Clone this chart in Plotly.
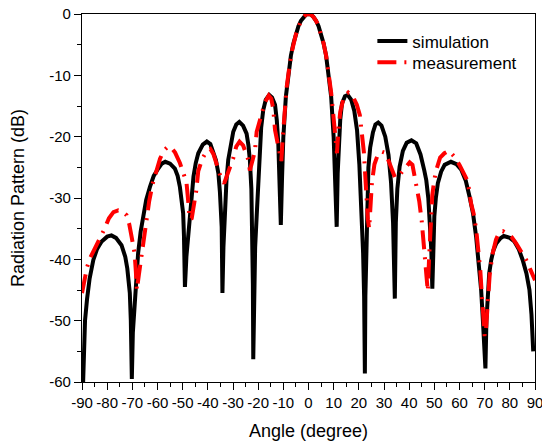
import plotly.graph_objects as go

# ---- data ----
sim_angle = [-90, -89.2, -88.8, -88, -87, -85.5, -84, -82.2, -80, -78.3, -76.5, -74.3, -72.8, -72, -71.4, -71, -70.6, -70.2,
             -69.8, -69, -68.4, -67.7, -66.7, -65.7, -64.5, -63, -61.5, -59.7, -58.3, -56.9, -55, -53.1, -52, -51.1, -50.4, -49.8, -49.5, -49.1,
             -48.5, -47.7, -46.8, -45.7, -44.8, -43.8, -42, -40.4, -39, -37.8, -36.8, -35.8, -35.2, -34.5, -34.2,
             -33.8, -33.2, -32.6, -31.9, -30.8, -29.9, -28.7, -27.5, -26, -24.6, -23.9, -23.3, -22.7, -22.3, -22.1, -21.95,
             -21.7, -21.2, -20.6, -20, -19.3, -18.8, -18, -17, -15.6, -14.5, -13.3, -12.6, -12, -11.5, -11.0,
             -10.5, -10, -9, -8, -7, -6, -5, -4, -3, -2, -1, 0, 1, 2, 3, 4, 5, 6, 7, 8, 9, 10, 10.6, 11.2,
             11.6, 12.1, 12.6, 13.3, 14.5, 15.6, 17, 18.2, 19.3, 20.2, 21, 21.7, 22.1, 22.4,
             22.6, 23, 23.4, 23.8, 24.5, 25.6, 26.6, 27.7, 29, 30.5, 31.8, 32.8, 33.6, 34.0, 34.3,
             34.7, 35.3, 36.2, 37.5, 39, 40.9, 42.8, 44.5, 46, 46.8, 47.6, 48.3, 48.8, 49.2,
             49.5, 50, 50.6, 51.4, 52.7, 54.1, 56.6, 58.8, 60.7, 62.5, 64, 65.4, 66.6, 67.7, 68.6, 69.3, 69.9, 70.3,
             70.7, 71.2, 71.8, 72.6, 73.5, 74.6, 76.2, 77.6, 80, 81.8, 83.5, 85.1, 86.6, 87.8, 88.6, 89.3]
sim_db = [-66, -54, -50, -46.5, -43.2, -40.1, -38.3, -37.1, -36.3, -36.1, -36.5, -37.7, -39.6, -41.5, -43.5, -45.5, -50, -59.5,
          -52, -47.7, -42.5, -39, -35.5, -33, -30.3, -28.2, -26.4, -25.2, -24.4, -24.1, -24.4, -25.2, -26.4, -28.2, -30, -32.5, -36, -44.5,
          -39.5, -35.8, -30, -26.5, -24.3, -22.7, -21.3, -20.8, -21.2, -22.4, -23.8, -26, -29, -34.7, -45.5,
          -38, -32, -27.2, -23.8, -21, -19.2, -18, -17.6, -18.2, -19.5, -21.3, -23.8, -28.5, -35, -44, -56.3,
          -45, -38, -33, -27, -21.5, -18.5, -15.7, -14, -13.2, -13.6, -14.8, -17.3, -21.1, -26, -34.4,
          -26.5, -20.1, -13.5, -9.6, -6.8, -4.8, -3.2, -2.0, -1.1, -0.5, -0.1, 0, -0.1, -0.5, -1.1, -2.0, -3.2, -4.8, -6.8, -9.6, -13.5, -20.1, -27, -34.7,
          -26, -21, -17.3, -14.6, -13.4, -13.2, -14, -15.8, -19, -24.5, -31.5, -39, -46, -58.6,
          -46, -36, -29, -25, -21.8, -19.3, -18, -17.7, -18.2, -20, -23, -27.5, -34, -39, -46.4,
          -34, -28.5, -24.9, -22.3, -21, -20.6, -21.1, -22.9, -25.5, -27.1, -30, -34, -38.5, -44.8,
          -38, -33, -30, -27.6, -25.7, -24.6, -24.1, -24.5, -25.4, -27.2, -29.8, -32.6, -36.3, -40.3, -45, -50, -55, -57.8,
          -50, -45, -42.3, -40.1, -38.5, -37.4, -36.6, -36.2, -36.5, -37.1, -38.3, -40.1, -42.3, -45, -49, -55]

meas_angle = [-90, -89, -88, -86.8, -85, -82.9, -81, -79.3, -77.5, -75.6, -74, -72.3, -71.2, -70.3, -69.1, -68.6, -68.2,
              -67.4, -66.5, -65.5, -64.5, -63.3, -62, -60.5, -59, -57.5, -55.8, -54.5, -53, -51.1, -49.8, -48.5, -47.8, -47.2,
              -46.4, -45.6, -44.6, -43.8, -42.2, -40.4, -39, -37.8, -36.7, -35.5, -34.5, -33.5, -32.5, -31.2, -29.9, -28.7,
              -27.4, -26, -24.8, -23.9, -23.3, -22.3, -21.3, -20.6, -19.5, -18.6, -17.3, -15.8, -14.8, -14, -13.3, -12.3,
              -11.4, -10.8, -10.2, -9.5, -8.7, -7.5, -6.5, -5, -4, -3, -2, -1, 0, 1, 2, 3, 4, 5, 6, 7, 8, 9, 9.8, 10.6,
              11.3, 11.9, 12.6, 14, 15.8, 17.7, 19.2, 20.4, 21.2, 22, 22.5, 23, 23.6, 24.1, 24.6, 25.2, 26.2, 27.3, 28.8,
              30.2, 31.5, 33, 34.3, 35.5, 37, 38.6, 40.2, 41.3, 42.8, 44, 45, 45.8, 46.4, 47, 47.4, 47.9, 48.3, 48.7,
              49.2, 50, 50.8, 52.3, 54, 55.8, 57.8, 60, 61.8, 63.3, 64.6, 65.6, 66.6, 67.6, 68.3, 68.9, 69.4, 70, 70.6,
              71.2, 72, 73.2, 74.5, 75.9, 77.2, 79, 80.8, 82.5, 84.5, 86.5, 88.3, 90]
meas_db = [-45.5, -43, -41.3, -39.8, -38.3, -36.9, -35, -33.3, -32.3, -32, -32.2, -32.8, -34.3, -36.3, -39, -42, -45,
           -42.5, -40, -37, -33.5, -30.5, -27.8, -25.4, -23.6, -22.3, -21.6, -21.8, -22.6, -24.3, -25.8, -27.4, -30.5, -33.5,
           -33.3, -31.5, -28.8, -25.6, -23.6, -22.3, -22, -22.8, -24.1, -25.6, -27.1, -27.6, -26.5, -25, -23.5, -21.6,
           -20.8, -21.4, -22.6, -23.8, -25.5, -24, -22.4, -19.2, -17.5, -16.2, -14.4, -13.3, -13.8, -15.5, -18.9, -21,
           -22.5, -24, -20, -15, -12, -8.3, -5.9, -3.3, -2.1, -1.1, -0.5, -0.1, 0, -0.1, -0.5, -1.1, -2.0, -3.2, -4.8, -6.8, -9.4, -12.8, -16.2, -20,
           -22.7, -19, -16, -13.6, -12.8, -13.5, -14.8, -16.5, -19.5, -22.5, -26, -29.8, -33.5, -35, -32, -27.5, -24.5, -23.2, -22.4,
           -22.6, -23.6, -25.3, -26.6, -26.6, -25.8, -25, -24.2, -24.6, -27.9, -30.5, -33.8, -37.2, -40.5, -43.5, -45.2, -40, -36.5, -32.5,
           -29.5, -27, -25.4, -23.4, -22.7, -22.3, -23.2, -24.6, -26, -27.3, -30.9, -32.5, -35, -38.6, -42, -46, -50, -52.5, -51,
           -47, -42.5, -39, -36.8, -35.5, -35.4, -35.8, -36.4, -37.4, -38.8, -40.1, -41.8, -43.4]

x_ticks = [-90, -80, -70, -60, -50, -40, -30, -20, -10, 0, 10, 20, 30, 40, 50, 60, 70, 80, 90]
y_ticks = [0, -10, -20, -30, -40, -50, -60]

FONT = "Liberation Sans, Arial, sans-serif"

fig = go.Figure()
fig.add_trace(go.Scatter(x=sim_angle, y=sim_db, mode="lines", name="simulation", showlegend=True,
                         line=dict(color="black", width=4), legend="legend"))
fig.add_trace(go.Scatter(x=meas_angle, y=meas_db, mode="lines", name="measurement", showlegend=True,
                         line=dict(color="#ff0000", width=4, dash="19px,8px,2px,8px"), legend="legend2"))

axis_common = dict(showline=True, mirror=True, linecolor="black", linewidth=1.3,
                   showgrid=False, zeroline=False, ticks="outside", tickcolor="black",
                   tickwidth=1.3, ticklen=7, tickfont=dict(family=FONT, size=15, color="black"),
                   ticklabeloverflow="allow")

fig.update_xaxes(range=[-90, 90], tickvals=x_ticks, ticktext=[str(v) for v in x_ticks],
                 minor=dict(dtick=5, ticks="outside", ticklen=4, tickcolor="black", tickwidth=1.3),
                 title=dict(text="Angle (degree)", font=dict(family=FONT, size=18, color="black"), standoff=14),
                 **axis_common)
fig.update_yaxes(range=[-60, 0], tickvals=y_ticks, ticktext=[str(v) for v in y_ticks],
                 minor=dict(dtick=5, ticks="outside", ticklen=4, tickcolor="black", tickwidth=1.3),
                 title=dict(text="Radiation Pattern (dB)", font=dict(family=FONT, size=18, color="black"), standoff=19),
                 **axis_common)

legend_common = dict(xanchor="left", yanchor="top", bgcolor="rgba(0,0,0,0)", visible=True,
                     font=dict(family=FONT, size=17, color="black"), itemwidth=30)
fig.update_layout(width=542, height=441, margin=dict(l=82, r=7, t=14, b=59, autoexpand=False),
                  paper_bgcolor="white", plot_bgcolor="white", showlegend=True,
                  font=dict(family=FONT, color="black"),
                  legend=dict(x=0.641, y=0.974, **legend_common),
                  legend2=dict(x=0.641, y=0.9166, **legend_common))

fig.write_html("out.html", config={"displayModeBar": False},
               post_script="document.body.style.margin='0px';document.body.style.overflow='hidden';")
